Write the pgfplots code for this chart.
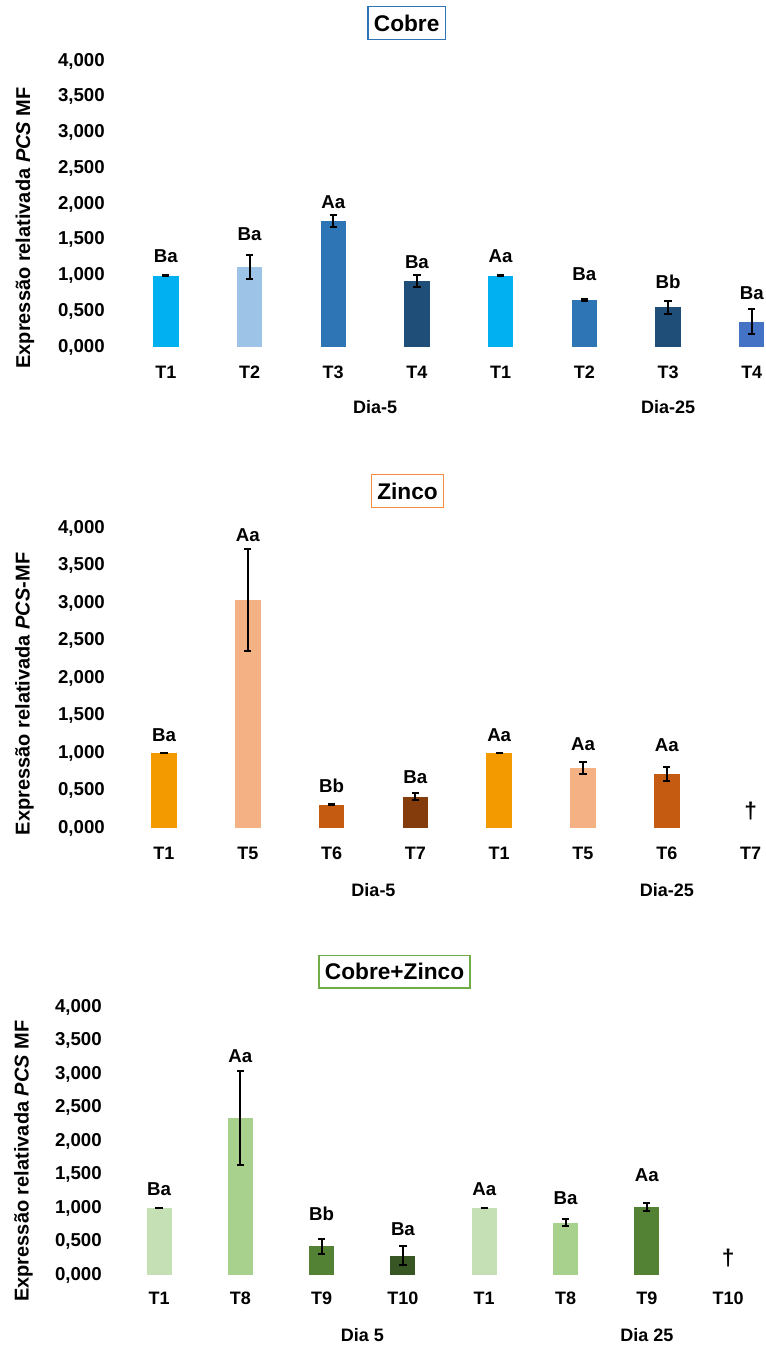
\documentclass[border=0pt]{standalone}
\usepackage{pgfplots}
\pgfplotsset{compat=1.18}
\usepackage{fontspec}
\setmainfont{Liberation Sans}

% Cobre
\definecolor{cuA}{HTML}{00B0F0}
\definecolor{cuB}{HTML}{9DC3E6}
\definecolor{cuC}{HTML}{2E75B6}
\definecolor{cuD}{HTML}{1F4E79}
\definecolor{cuE}{HTML}{4472C4}
% Zinco
\definecolor{znA}{HTML}{F29A00}
\definecolor{znB}{HTML}{F4B183}
\definecolor{znC}{HTML}{C55A11}
\definecolor{znD}{HTML}{843C0C}
% Cobre+Zinco
\definecolor{czA}{HTML}{C5E0B4}
\definecolor{czB}{HTML}{A9D18E}
\definecolor{czC}{HTML}{548235}
\definecolor{czD}{HTML}{375623}
% frames of the titles
\definecolor{frCu}{HTML}{2E75B6}
\definecolor{frZn}{HTML}{F28B47}
\definecolor{frCZ}{HTML}{70AD47}

\pgfplotsset{
  panel/.style={
    scale only axis,
    anchor=south west,
    xmin=-0.5, xmax=7.5, ymin=0, ymax=4,
    axis line style={draw=none},
    major tick length=0pt,
    xtick={0,...,7},
    ytick={0,0.5,...,4},
    yticklabels={{0,000},{0,500},{1,000},{1,500},{2,000},{2,500},{3,000},{3,500},{4,000}},
    yticklabel style={font=\fontsize{14}{16}\selectfont\bfseries, anchor=east, inner sep=0pt},
    xticklabel style={font=\fontsize{13.5}{15}\selectfont\bfseries, anchor=base, inner sep=0pt},
    clip=false,
    every axis y label/.style={rotate=90, anchor=center,
      font=\fontsize{15}{17}\selectfont\bfseries},
  },
  bar/.style={ybar, draw=none, fill=#1,
    error bars/.cd, y dir=both, y explicit,
    error bar style={black, line width=1.5pt},
    error mark options={black, line width=1.5pt, mark size=2.7pt, rotate=90}},
}
\tikzset{
  ttl/.style={draw=#1, line width=1.1pt, fill=white,
    font=\fontsize{17}{19}\selectfont\bfseries, inner xsep=4.5pt, minimum height=24.5pt},
  tag/.style={font=\fontsize{14}{16}\selectfont\bfseries, inner sep=0pt},
  grp/.style={font=\fontsize{13.5}{15}\selectfont\bfseries, inner sep=0pt},
  dag/.style={font=\fontsize{17}{19}\selectfont\bfseries, inner sep=0pt},
}

\begin{document}
\begin{tikzpicture}
\path[use as bounding box] (0,0) rectangle (574.5pt,-1008.75pt);

% ---------------- Cobre ----------------
\node[ttl=frCu] at (305pt,-17.25pt) {Cobre};
\begin{axis}[panel, at={(93pt,-260.25pt)}, width=502.2pt, height=214.5pt,
  bar width=19.1pt,
  xticklabels={T1,T2,T3,T4,T1,T2,T3,T4},
  xticklabel style={yshift=-23.6pt},
  yticklabel style={xshift=-14.25pt},
  ylabel={Expressão relativada \textit{PCS} MF},
  every axis y label/.append style={at={(axis description cs:-0.148,0.416)}}]
\addplot[bar=cuA] coordinates {(0,1.000) +- (0,0.006)};
\addplot[bar=cuB] coordinates {(1,1.120) +- (0,0.170)};
\addplot[bar=cuC] coordinates {(2,1.760) +- (0,0.085)};
\addplot[bar=cuD] coordinates {(3,0.920) +- (0,0.085)};
\addplot[bar=cuA] coordinates {(4,1.000) +- (0,0.006)};
\addplot[bar=cuC] coordinates {(5,0.660) +- (0,0.010)};
\addplot[bar=cuD] coordinates {(6,0.555) +- (0,0.090)};
\addplot[bar=cuE] coordinates {(7,0.355) +- (0,0.180)};
\node[tag] at (axis cs:0,1.27) {Ba};
\node[tag] at (axis cs:1,1.58) {Ba};
\node[tag] at (axis cs:2,2.03) {Aa};
\node[tag] at (axis cs:3,1.19) {Ba};
\node[tag] at (axis cs:4,1.27) {Aa};
\node[tag] at (axis cs:5,1.02) {Ba};
\node[tag] at (axis cs:6,0.91) {Bb};
\node[tag] at (axis cs:7,0.75) {Ba};
\node[grp, yshift=-45pt] at (axis cs:2.5,0) {Dia-5};
\node[grp, yshift=-45pt] at (axis cs:6,0) {Dia-25};
\end{axis}

% ---------------- Zinco ----------------
\node[ttl=frZn] at (305.6pt,-368.25pt) {Zinco};
\begin{axis}[panel, at={(91.575pt,-621pt)}, width=502.8pt, height=225pt,
  bar width=19.1pt,
  xticklabels={T1,T5,T6,T7,T1,T5,T6,T7},
  xticklabel style={yshift=-23.6pt},
  yticklabel style={xshift=-12.8pt},
  ylabel={Expressão relativada \textit{PCS}-MF},
  every axis y label/.append style={at={(axis description cs:-0.1456,0.447)}}]
\addplot[bar=znA] coordinates {(0,1.000) +- (0,0.006)};
\addplot[bar=znB] coordinates {(1,3.035) +- (0,0.680)};
\addplot[bar=znC] coordinates {(2,0.310) +- (0,0.006)};
\addplot[bar=znD] coordinates {(3,0.420) +- (0,0.045)};
\addplot[bar=znA] coordinates {(4,1.000) +- (0,0.006)};
\addplot[bar=znB] coordinates {(5,0.800) +- (0,0.080)};
\addplot[bar=znC] coordinates {(6,0.725) +- (0,0.095)};
\node[tag] at (axis cs:0,1.24) {Ba};
\node[tag] at (axis cs:1,3.91) {Aa};
\node[tag] at (axis cs:2,0.56) {Bb};
\node[tag] at (axis cs:3,0.68) {Ba};
\node[tag] at (axis cs:4,1.24) {Aa};
\node[tag] at (axis cs:5,1.12) {Aa};
\node[tag] at (axis cs:6,1.11) {Aa};
\node[dag] at (axis cs:7,0.22) {†};
\node[grp, yshift=-46.5pt] at (axis cs:2.5,0) {Dia-5};
\node[grp, yshift=-46.5pt] at (axis cs:6,0) {Dia-25};
\end{axis}

% ---------------- Cobre+Zinco ----------------
\node[ttl=frCZ] at (295.9pt,-728.8pt) {Cobre+Zinco};
\begin{axis}[panel, at={(88.8pt,-956.25pt)}, width=487.8pt, height=201pt,
  bar width=18.75pt,
  xticklabels={T1,T8,T9,T10,T1,T8,T9,T10},
  xticklabel style={yshift=-22.1pt},
  yticklabel style={xshift=-12.3pt},
  ylabel={Expressão relativada \textit{PCS} MF},
  every axis y label/.append style={at={(axis description cs:-0.146,0.425)}}]
\addplot[bar=czA] coordinates {(0,1.000) +- (0,0.006)};
\addplot[bar=czB] coordinates {(1,2.340) +- (0,0.705)};
\addplot[bar=czC] coordinates {(2,0.430) +- (0,0.115)};
\addplot[bar=czD] coordinates {(3,0.290) +- (0,0.145)};
\addplot[bar=czA] coordinates {(4,1.000) +- (0,0.006)};
\addplot[bar=czB] coordinates {(5,0.780) +- (0,0.050)};
\addplot[bar=czC] coordinates {(6,1.020) +- (0,0.060)};
\node[tag] at (axis cs:0,1.28) {Ba};
\node[tag] at (axis cs:1,3.26) {Aa};
\node[tag] at (axis cs:2,0.92) {Bb};
\node[tag] at (axis cs:3,0.68) {Ba};
\node[tag] at (axis cs:4,1.28) {Aa};
\node[tag] at (axis cs:5,1.15) {Ba};
\node[tag] at (axis cs:6,1.49) {Aa};
\node[dag] at (axis cs:7,0.26) {†};
\node[grp, yshift=-45pt] at (axis cs:2.5,0) {Dia 5};
\node[grp, yshift=-45pt] at (axis cs:6,0) {Dia 25};
\end{axis}
\end{tikzpicture}
\end{document}
